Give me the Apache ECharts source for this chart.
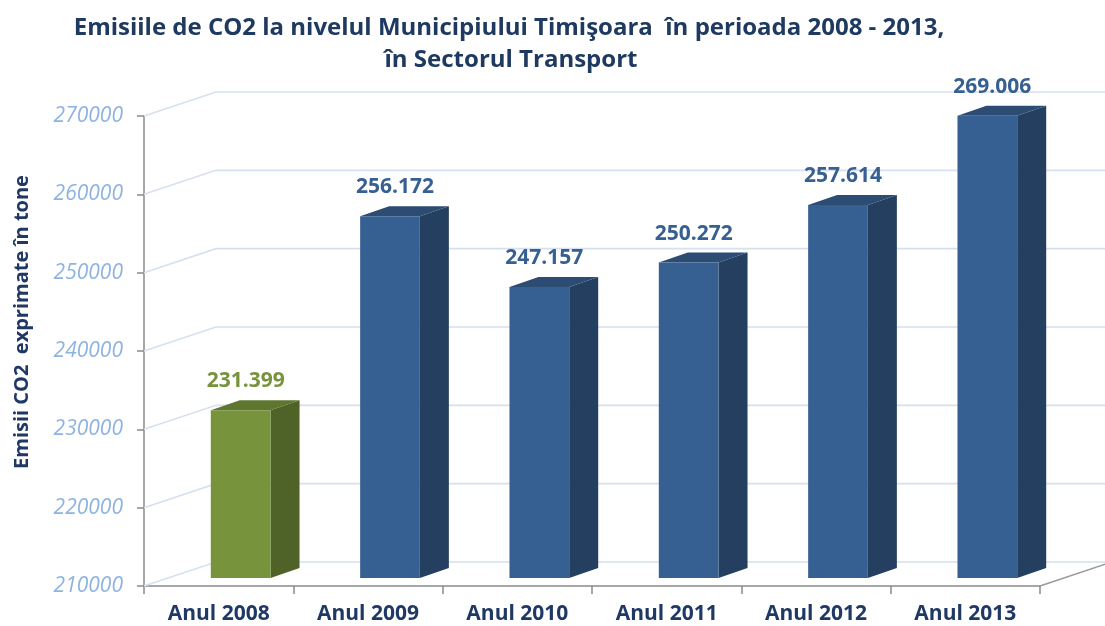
<!DOCTYPE html>
<html><head><meta charset="utf-8">
<script src="https://cdn.jsdelivr.net/npm/echarts@6/dist/echarts.min.js"></script>
<style>html,body{margin:0;padding:0;background:#fff}#c{width:1105px;height:626px}</style>
</head><body><div id="c"></div>
<script>
const categories = ["Anul 2008", "Anul 2009", "Anul 2010", "Anul 2011", "Anul 2012", "Anul 2013"];
const emissions = [231399, 256172, 247157, 250272, 257614, 269006];
const yTicks = [210000, 220000, 230000, 240000, 250000, 260000, 270000];
const titleLine1 = "Emisiile de CO2 la nivelul Municipiului Timişoara  în perioada 2008 - 2013,";
const titleLine2 = "în Sectorul Transport";
const yAxisName = "Emisii CO2  exprimate în tone";

const yMin = yTicks[0], yMax = yTicks[yTicks.length - 1], yStep = yTicks[1] - yTicks[0];
const palette = {
  green: { front: '#77933c', side: '#4f6228', top: '#5e7630', label: '#77933c' },
  blue:  { front: '#376092', side: '#243f5f', top: '#2c4c74', label: '#376092' }
};
const DEPTH_X = 72, DEPTH_Y = -24;   // wall depth
const FRONT_X = 22, FRONT_Y = -8;    // bar front plane offset
const BAR_DX = 29, BAR_DY = -10;     // bar depth

function fmt(v) { return String(v).replace(/\B(?=(\d{3})+(?!\d))/g, '.'); }

function renderGrid(params, api) {
  const v = api.value(1);
  const p = api.coord([0, v]);
  const cs = params.coordSys;
  const xL = cs.x, xR = cs.x + cs.width, y = p[1];
  const children = [{
    type: 'polyline',
    shape: { points: [[xL, y], [xL + DEPTH_X, y + DEPTH_Y], [xR + DEPTH_X + 20, y + DEPTH_Y]] },
    style: { stroke: '#d6e0ef', lineWidth: 1.6, fill: null }
  }];
  if (v === yMin) {
    children.push({
      type: 'line',
      shape: { x1: xR, y1: y, x2: xR + DEPTH_X, y2: y + DEPTH_Y },
      style: { stroke: '#9a9a9a', lineWidth: 1.5 }
    });
  }
  return { type: 'group', children: children, silent: true };
}

function renderBar(params, api) {
  const i = api.value(0), v = api.value(1);
  const top = api.coord([i, v]);
  const bot = api.coord([i, yMin]);
  const w = api.size([1, 0])[0] * 0.4;
  const cx = top[0] + FRONT_X;
  const x0 = cx - w / 2, x1 = cx + w / 2;
  const yt = top[1] + FRONT_Y, yb = bot[1] + FRONT_Y;
  const c = i === 0 ? palette.green : palette.blue;
  return {
    type: 'group', children: [
      { type: 'polygon', shape: { points: [[x1, yt], [x1 + BAR_DX, yt + BAR_DY], [x1 + BAR_DX, yb + BAR_DY], [x1, yb]] }, style: { fill: c.side } },
      { type: 'polygon', shape: { points: [[x0, yt], [x0 + BAR_DX, yt + BAR_DY], [x1 + BAR_DX, yt + BAR_DY], [x1, yt]] }, style: { fill: c.top } },
      { type: 'rect', shape: { x: x0, y: yt, width: w, height: yb - yt }, style: { fill: c.front } },
      { type: 'text', style: { text: fmt(v), x: cx + 5, y: yt - 29, align: 'center', verticalAlign: 'middle',
          font: 'bold 21px "Open Sans"', fill: c.label } }
    ]
  };
}

const chart = echarts.init(document.getElementById('c'), null, { renderer: 'canvas' });
chart.setOption({
  animation: false,
  backgroundColor: '#ffffff',
  graphic: [
    { type: 'text', x: 509, y: 28, silent: true,
      style: { text: titleLine1, align: 'center', verticalAlign: 'middle', font: 'bold 24px "Open Sans"', fill: '#1f3a60' } },
    { type: 'text', x: 511, y: 60, silent: true,
      style: { text: titleLine2, align: 'center', verticalAlign: 'middle', font: 'bold 24px "Open Sans"', fill: '#1f3a60' } },
    { type: 'text', x: 22, y: 322, rotation: Math.PI / 2, silent: true,
      style: { text: yAxisName, align: 'center', verticalAlign: 'middle', font: 'bold 20px "Open Sans"', fill: '#1f3864' } }
  ],
  grid: { left: 144, right: 65, top: 116, bottom: 40, containLabel: false },
  xAxis: {
    type: 'category', data: categories,
    axisLine: { show: true, lineStyle: { color: '#8a8a8a', width: 1.5 } },
    axisTick: { show: true, length: 8, lineStyle: { color: '#8a8a8a', width: 1.5 } },
    axisLabel: { fontFamily: 'Open Sans', fontWeight: 'bold', fontSize: 21, color: '#1f3864', margin: 18 },
    splitLine: { show: false }
  },
  yAxis: {
    type: 'value', min: yMin, max: yMax, interval: yStep,
    axisLine: { show: true, lineStyle: { color: '#8a8a8a', width: 1.5 } },
    axisTick: { show: true, length: 7, lineStyle: { color: '#8a8a8a', width: 1.5 } },
    axisLabel: { fontFamily: 'Open Sans', fontStyle: 'italic', fontSize: 21, color: '#8db3e2', margin: 21,
      formatter: function (v) { return String(v); } },
    splitLine: { show: false }
  },
  series: [
    { type: 'custom', name: 'grid', renderItem: renderGrid, data: yTicks.map(v => [0, v]), z: 1, silent: true, clip: false },
    { type: 'custom', name: 'Emisii', renderItem: renderBar, data: emissions.map((v, i) => [i, v]), z: 3, clip: false }
  ]
});
</script></body></html>
